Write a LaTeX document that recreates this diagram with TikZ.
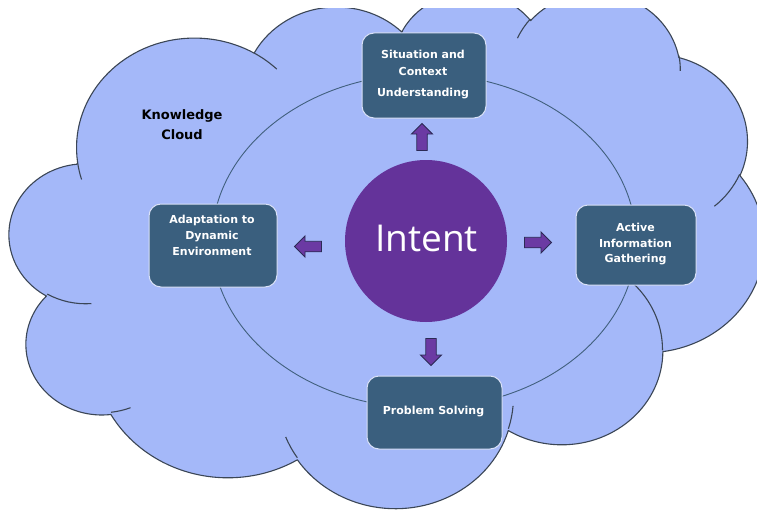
\documentclass[tikz,border=0pt]{standalone}
\usepackage{fontspec}
\setmainfont{DejaVu Sans}
\newfontfamily\intentfont{Open Sans}
\usetikzlibrary{shapes.geometric}
\definecolor{cloudfill}{HTML}{A4B8F9}
\definecolor{cloudline}{HTML}{3B4656}
\definecolor{ringline}{HTML}{41607E}
\definecolor{boxfill}{HTML}{3A5F7E}
\definecolor{boxline}{HTML}{D9E1F7}
\definecolor{intentfill}{HTML}{64339A}
\definecolor{arrowfill}{HTML}{6B3AA3}
\definecolor{arrowline}{HTML}{2B2A55}
% OOXML-style arc: visual angles -> parametric angles
\newcommand\mkcloudarc[5]{%
  \pgfmathsetmacro\cldA{atan2((#2)*sin(#4),(#3)*cos(#4))}%
  \pgfmathsetmacro\cldB{atan2((#2)*sin((#4)+(#5)),(#3)*cos((#4)+(#5)))}%
  \pgfmathsetmacro\cldB{\cldB+360*(\cldB<\cldA)}%
  \expandafter\xdef\csname cldarc#1\endcsname{ arc[x radius=#2, y radius=#3, start angle=\cldA, end angle=\cldB]}%
}
\mkcloudarc{A}{675.3}{919.0}{-190.487}{123.781}
\mkcloudarc{B}{533.3}{726.7}{-144.102}{89.945}
\mkcloudarc{C}{436.5}{594.5}{-145.808}{99.723}
\mkcloudarc{D}{485.7}{659.5}{-130.986}{117.242}
\mkcloudarc{E}{533.3}{727.3}{-78.709}{109.027}
\mkcloudarc{F}{677.5}{922.0}{-46.267}{130.269}
\mkcloudarc{G}{578.5}{786.7}{0.625}{114.033}
\mkcloudarc{H}{675.2}{921.5}{22.452}{115.173}
\mkcloudarc{I}{772.0}{1054.3}{66.243}{75.711}
\mkcloudarc{J}{436.0}{591.8}{-274.942}{146.736}
\mkcloudarc{K}{434.5}{594.5}{-246.829}{152.519}
\mkcloudarc{inA}{434.5}{594.5}{86.742}{26.430}
\mkcloudarc{inB}{436.0}{591.8}{73.610}{11.447}
\mkcloudarc{inC}{675.2}{921.5}{137.624}{14.081}
\mkcloudarc{inD}{675.2}{921.5}{6.453}{15.998}
\mkcloudarc{inE}{578.5}{786.7}{-70.292}{70.917}
\mkcloudarc{inF}{533.3}{727.3}{30.318}{27.752}
\mkcloudarc{inG}{485.7}{659.5}{-13.744}{14.859}
\mkcloudarc{inH}{485.7}{659.5}{-149.181}{18.195}
\mkcloudarc{inI}{436.5}{594.5}{-163.494}{17.686}
\mkcloudarc{inJ}{675.3}{919.0}{-66.707}{12.319}
\mkcloudarc{inK}{675.3}{919.0}{157.654}{11.858}
\newcommand\blockarrow[3]{%
  \draw[blockarrowstyle, shift={(#1,#2)}, rotate=#3]
    (-13.5,-5.25) -- (3,-5.25) -- (3,-10.5) -- (13.5,0) -- (3,10.5) -- (3,5.25) -- (-13.5,5.25) -- cycle;}
\begin{document}
\begin{tikzpicture}[x=1pt,y=-1pt,
  box/.style={draw=boxline, line width=1pt, fill=boxfill, rounded corners=12pt, inner sep=0pt},
  boxtext/.style={text=white, font=\bfseries\fontsize{11}{16}\selectfont, align=center, inner sep=0pt},
  blockarrowstyle/.style={fill=arrowfill, draw=arrowline, line width=0.9pt, line join=miter},
  cloudstroke/.style={draw=cloudline, line width=1.1pt}]
\useasboundingbox (0,0) rectangle (757,511);
\fill[white] (0,0) rectangle (757,511);
% knowledge cloud
\begin{scope}
  \clip (0,9) rectangle (757,511);
  \begin{scope}[shift={(9.5,-9)}, x=0.17469pt, y=-0.1194pt]
    \path[cloudstroke, fill=cloudfill, line join=round]
      (390,1437) \cldarcA \cldarcB \cldarcC \cldarcD \cldarcE \cldarcF
      \cldarcG \cldarcH \cldarcI \cldarcJ \cldarcK -- cycle;
    \draw[cloudstroke]
      (469.3,2617.7) \cldarcinA (692.8,3489.9) \cldarcinB
      (1647.8,3909.0) \cldarcinC (2882.7,3475.1) \cldarcinD
      (3412.9,2295.4) \cldarcinE (4179.8,1535.4) \cldarcinF
      (3832.4,542.6) \cldarcinG (2907.8,395.2) \cldarcinH
      (2214.1,472.0) \cldarcinI (1400.0,519.2) \cldarcinJ
      (412.7,1578.9) \cldarcinK;
  \end{scope}
\end{scope}
\node[text=black, font=\bfseries\fontsize{13}{20}\selectfont, align=center, inner sep=0pt] (kc) at (182,125) {Knowledge\\Cloud};
% ring
\node[draw=ringline, line width=0.9pt, ellipse, minimum width=424pt, minimum height=334pt, inner sep=0pt] (ring) at (424,241) {};
% intent
\node[circle, fill=intentfill, minimum size=162pt, inner sep=0pt] (intent) at (426,241) {};
\node[text=white, font=\intentfont\fontsize{37}{40}\selectfont, inner sep=0pt] (intentlbl) at (426.5,238) {Intent};
% boxes
\node[box, minimum width=124pt, minimum height=85pt] (sit) at (424,75.5) {};
\node[box, minimum width=128pt, minimum height=83pt] (ada) at (213,245.5) {};
\node[box, minimum width=120pt, minimum height=80pt] (act) at (636,245) {};
\node[box, minimum width=135pt, minimum height=73pt] (prob) at (434.5,412.5) {};
\node[boxtext, font=\bfseries\fontsize{11}{17}\selectfont] (sitT) at (423,75) {Situation and\\Context\\[4pt]Understanding};
\node[boxtext] (adaT) at (212,235) {Adaptation to\\Dynamic\\Environment};
\node[boxtext, font=\bfseries\fontsize{11}{15.5}\selectfont] (actT) at (635.5,244.5) {Active\\Information\\Gathering};
\node[boxtext] (probT) at (433.5,412) {Problem Solving};
% block arrows
\coordinate (aup) at (422,137);
\coordinate (adown) at (431,352);
\coordinate (aleft) at (308,246.5);
\coordinate (aright) at (538,242.5);
\blockarrow{422}{137}{90}
\blockarrow{431}{352}{-90}
\blockarrow{308}{246.5}{180}
\blockarrow{538}{242.5}{0}
\end{tikzpicture}
\end{document}
